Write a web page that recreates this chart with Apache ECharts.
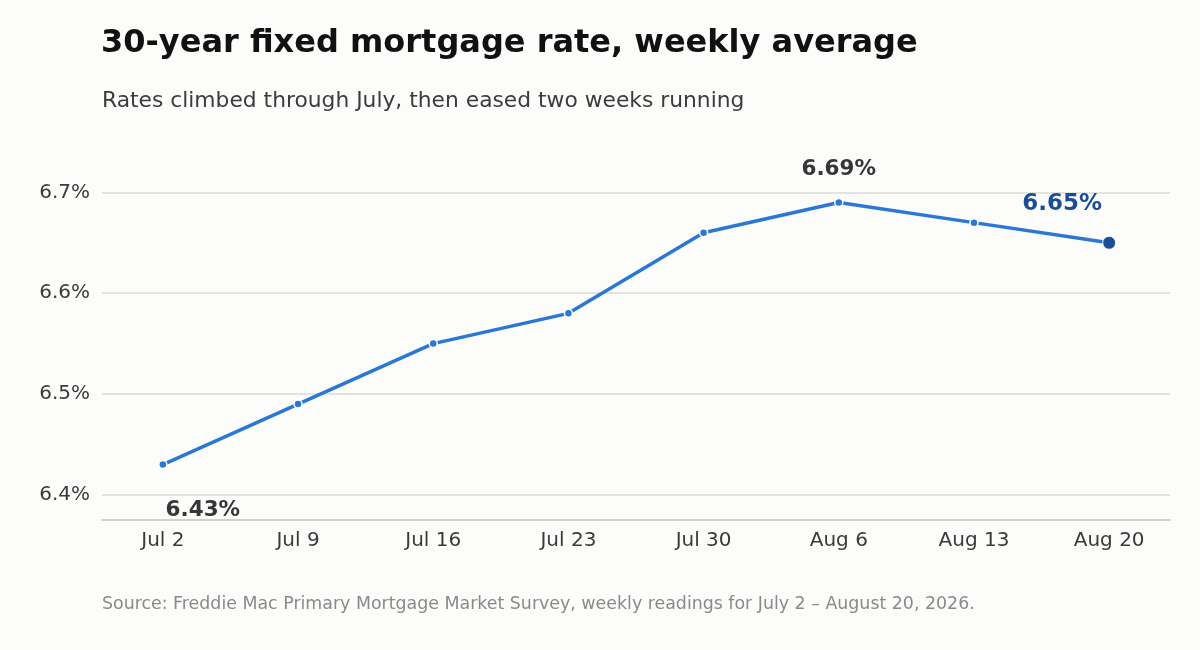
<!DOCTYPE html>
<html>
<head>
<meta charset="utf-8">
<script src="https://cdn.jsdelivr.net/npm/echarts@6/dist/echarts.min.js"></script>
<style>
  html, body { margin: 0; padding: 0; background: #fcfcfb; }
  #chart { width: 1200px; height: 650px; }
</style>
</head>
<body>
<div id="chart"></div>
<script>
// weekly readings
var weeks = ['Jul 2', 'Jul 9', 'Jul 16', 'Jul 23', 'Jul 30', 'Aug 6', 'Aug 13', 'Aug 20'];
var rates = [6.43, 6.49, 6.55, 6.58, 6.66, 6.69, 6.67, 6.65];
var yTicks = [6.4, 6.5, 6.6, 6.7];
var xTicks = [0, 1, 2, 3, 4, 5, 6, 7];

var FONT = '"DejaVu Sans", sans-serif';
var BLUE = '#2a77d4';
var DARK_BLUE = '#1a4d96';

var chart = echarts.init(document.getElementById('chart'));

var lastIdx = rates.length - 1;
var seriesData = rates.map(function (v, i) {
  var item = { value: [i, v] };
  if (i === 0) {
    item.label = { show: true, position: 'bottom', distance: 4, offset: [40, 26],
      fontSize: 21.5, fontWeight: 'bold', color: '#363636' };
  } else if (i === 5) {
    item.label = { show: true, position: 'top', distance: 17,
      fontSize: 21.5, fontWeight: 'bold', color: '#363636' };
  } else if (i === lastIdx) {
    item.symbolSize = 13;
    item.itemStyle = { color: DARK_BLUE, borderColor: '#ffffff', borderWidth: 1 };
    item.label = { show: true, position: 'top', distance: 20, offset: [-47, 0],
      fontSize: 23, fontWeight: 'bold', color: DARK_BLUE };
  }
  return item;
});

var option = {
  backgroundColor: '#fcfcfb',
  animation: false,
  textStyle: { fontFamily: FONT },
  title: [
    {
      text: '30-year fixed mortgage rate, weekly average',
      left: 101, top: 28, padding: 0,
      textStyle: { fontSize: 32, fontWeight: 'bold', color: '#111111', fontFamily: FONT }
    },
    {
      text: 'Rates climbed through July, then eased two weeks running',
      left: 102, top: 90, padding: 0,
      textStyle: { fontSize: 21.8, fontWeight: 'normal', color: '#3c3c3c', fontFamily: FONT }
    },
    {
      text: 'Source: Freddie Mac Primary Mortgage Market Survey, weekly readings for July 2 \u2013 August 20, 2026.',
      left: 102, top: 596, padding: 0,
      textStyle: { fontSize: 17.4, fontWeight: 'normal', color: '#8a8a8a', fontFamily: FONT }
    }
  ],
  grid: { left: 102, right: 30, top: 142, bottom: 130 },
  xAxis: {
    type: 'value',
    min: -0.45,
    max: 7.45,
    axisLine: { show: true, onZero: false, lineStyle: { color: '#c2c2bc', width: 1.5 } },
    axisTick: { show: false, customValues: xTicks },
    splitLine: { show: false },
    axisLabel: {
      customValues: xTicks,
      margin: 11,
      fontSize: 20,
      color: '#3a3a3a',
      formatter: function (v) { return weeks[v]; }
    }
  },
  yAxis: {
    type: 'value',
    min: 6.375,
    max: 6.75,
    axisLine: { show: false },
    axisTick: { show: false, customValues: yTicks },
    splitLine: { show: true, customValues: yTicks, lineStyle: { color: '#dadad6', width: 1.5 } },
    axisLabel: {
      customValues: yTicks,
      margin: 12,
      fontSize: 20,
      color: '#3a3a3a',
      formatter: function (v) { return v.toFixed(1) + '%'; }
    }
  },
  series: [{
    type: 'line',
    data: seriesData,
    symbol: 'circle',
    symbolSize: 8,
    lineStyle: { color: BLUE, width: 3.5 },
    itemStyle: { color: BLUE, borderColor: '#ffffff', borderWidth: 1.5 },
    label: {
      show: false,
      fontFamily: FONT,
      formatter: function (p) { return p.value[1].toFixed(2) + '%'; }
    }
  }]
};

chart.setOption(option);
</script>
</body>
</html>
